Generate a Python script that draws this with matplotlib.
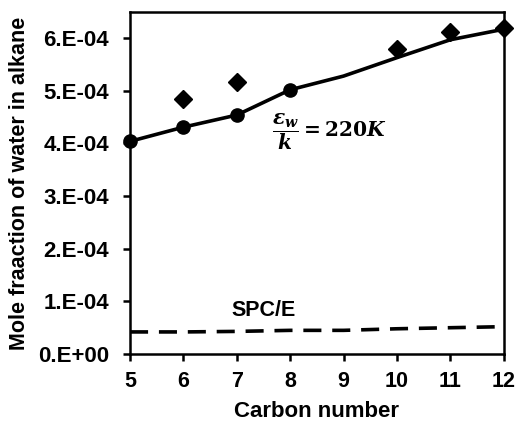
import matplotlib
matplotlib.use('agg')
import matplotlib.pyplot as plt

plt.rcParams['font.family'] = ['Liberation Sans', 'DejaVu Sans']
plt.rcParams['font.weight'] = 'bold'
plt.rcParams['mathtext.fontset'] = 'custom'
plt.rcParams['mathtext.it'] = 'DejaVu Serif:italic:bold'
plt.rcParams['mathtext.rm'] = 'DejaVu Serif:bold'

# simulation (eps_w/k = 220K), line through all, markers on first four
sim_x = [5, 6, 7, 8, 9, 10, 11, 12]
sim_y = [4.04e-4, 4.31e-4, 4.54e-4, 5.02e-4, 5.28e-4, 5.63e-4, 5.97e-4, 6.17e-4]
sim_mark_x = [5, 6, 7, 8]
sim_mark_y = [4.04e-4, 4.31e-4, 4.54e-4, 5.02e-4]

# experiment
exp_x = [6, 7, 10, 11, 12]
exp_y = [4.84e-4, 5.16e-4, 5.79e-4, 6.11e-4, 6.19e-4]

# SPC/E
spce_x = [5, 6, 7, 8, 9, 10, 11, 12]
spce_y = [0.42e-4, 0.42e-4, 0.43e-4, 0.45e-4, 0.45e-4, 0.48e-4, 0.50e-4, 0.52e-4]

yticks = [0, 1e-4, 2e-4, 3e-4, 4e-4, 5e-4, 6e-4]
ytick_labels = ['0.E+00', '1.E-04', '2.E-04', '3.E-04', '4.E-04', '5.E-04', '6.E-04']
xticks = [5, 6, 7, 8, 9, 10, 11, 12]

fig = plt.figure(figsize=(5.16, 4.24), dpi=100)
ax = fig.add_axes([0.252, 0.165, 0.724, 0.807])

ax.plot(sim_x, sim_y, color='black', lw=2.6, clip_on=False, zorder=3)
ax.plot(sim_mark_x, sim_mark_y, 'o', color='black', ms=9.5, clip_on=False, zorder=4)
ax.plot(exp_x, exp_y, 'D', color='black', ms=9.5, clip_on=False, zorder=4)
ax.plot(spce_x, spce_y, color='black', lw=2.6, dashes=(5.0, 3.0), clip_on=False, zorder=3)

ax.text(6.9, 0.82e-4, 'SPC/E', fontsize=15.5, fontweight='bold', va='center', ha='left')
ax.text(7.66, 4.23e-4, r'$\dfrac{\varepsilon_w}{k}=220K$', fontsize=14.5, va='center', ha='left')

ax.set_xlim(5, 12)
ax.set_ylim(0, 6.5e-4)
ax.set_xticks(xticks)
ax.set_yticks(yticks)
ax.set_yticklabels(ytick_labels)
ax.tick_params(axis='both', labelsize=16, width=1.8, length=5, direction='out')
ax.tick_params(axis='x', pad=7, labelsize=15.5)
ax.tick_params(axis='y', pad=10)
for s in ax.spines.values():
    s.set_linewidth(1.8)

ax.set_xlabel('Carbon number', fontsize=16, fontweight='bold', labelpad=7)
ax.set_ylabel('Mole fraaction of water in alkane', fontsize=15.5, fontweight='bold', labelpad=6)

plt.savefig('out.png', dpi=100)
